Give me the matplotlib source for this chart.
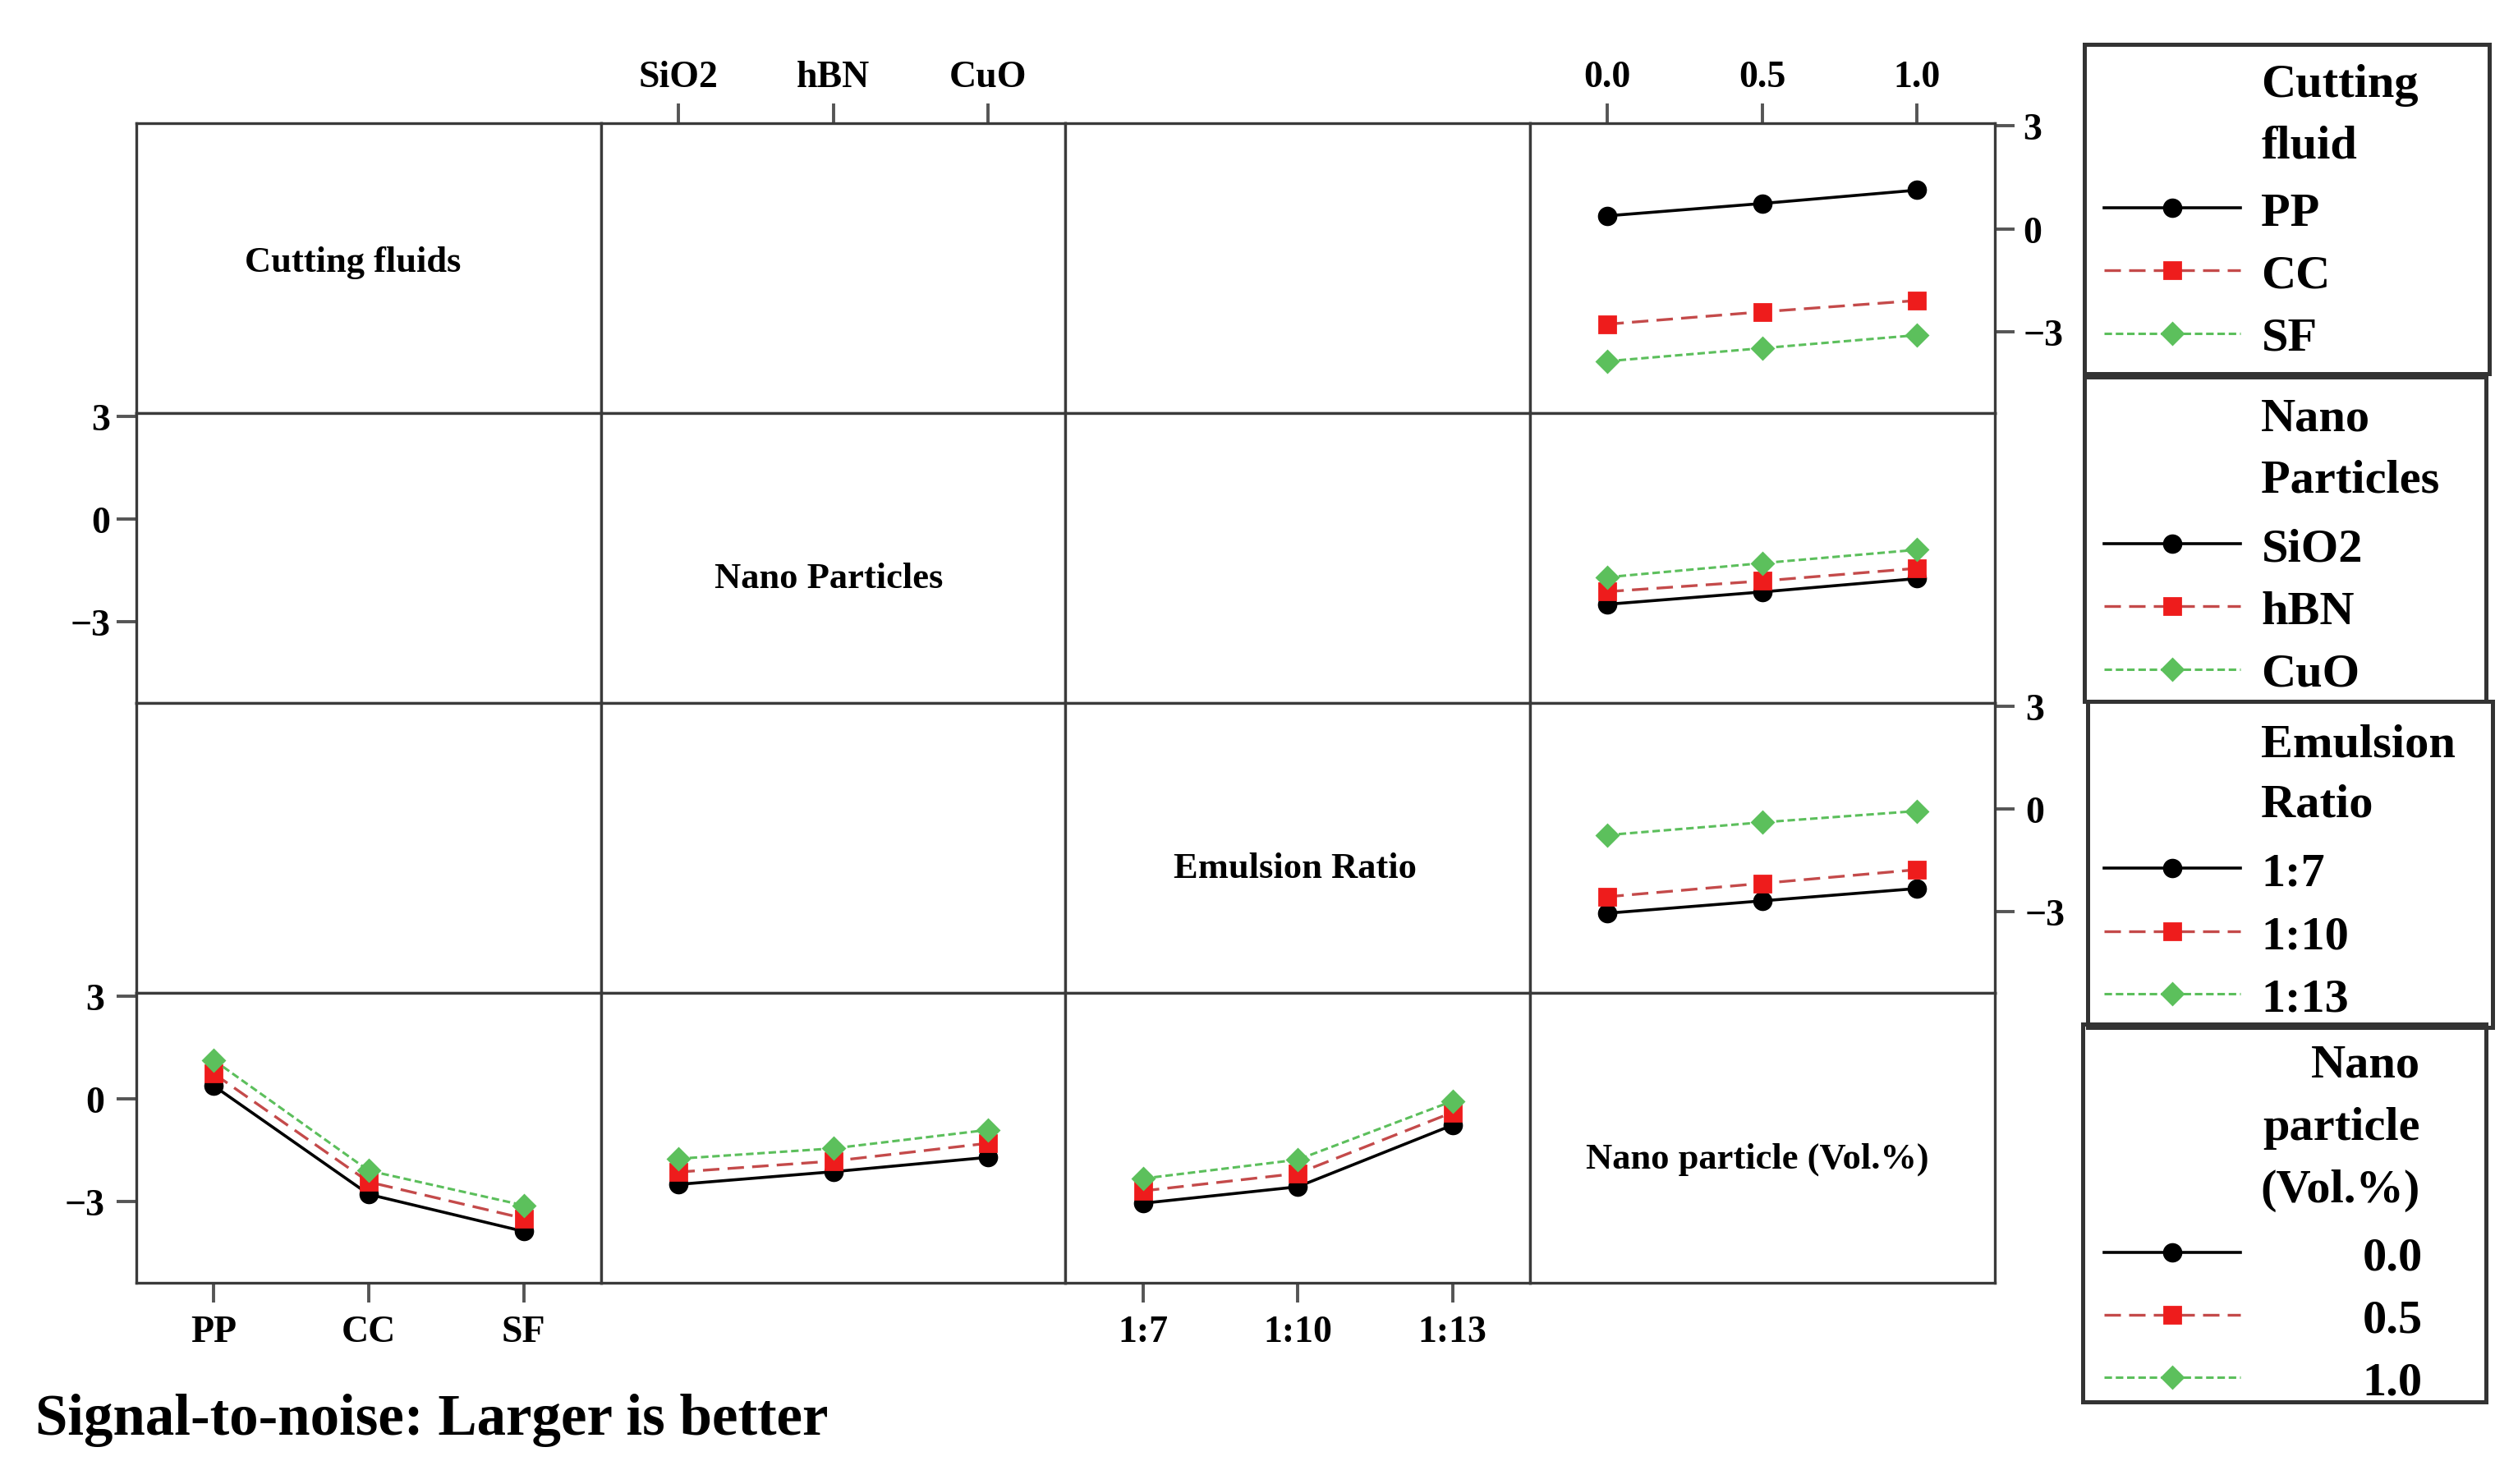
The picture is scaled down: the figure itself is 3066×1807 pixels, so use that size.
import matplotlib
matplotlib.use('Agg')
import matplotlib.pyplot as plt
from matplotlib.patches import Rectangle

plt.rcParams['font.family'] = 'Liberation Serif'
plt.rcParams['font.weight'] = 'bold'

# ---- data (mean S/N ratios) ----
cutting_fluids = ['PP', 'CC', 'SF']
nano_particles = ['SiO2', 'hBN', 'CuO']
emulsion_ratios = ['1:7', '1:10', '1:13']
vol_pct = [0.0, 0.5, 1.0]
vol_labels = ['0.0', '0.5', '1.0']

# rows = factor level, columns = nano particle vol.% (0.0, 0.5, 1.0)
sn_fluid_vol = [[0.38, 0.74, 1.13],
                [-2.78, -2.42, -2.09],
                [-3.86, -3.48, -3.10]]
sn_np_vol = [[-2.49, -2.13, -1.74],
             [-2.12, -1.81, -1.44],
             [-1.70, -1.29, -0.90]]
sn_er_vol = [[-3.04, -2.68, -2.32],
             [-2.56, -2.17, -1.77],
             [-0.76, -0.39, -0.06]]

diag_titles = ['Cutting fluids', 'Nano Particles', 'Emulsion Ratio',
               'Nano particle (Vol.%)']

# ---- styles ----
STYLES = [
    dict(color='black', ls='-', lw=1.3, marker='o', ms=7.5, mfc='black', mec='black'),
    dict(color='#c44a4a', ls=(0, (6, 3)), lw=1.2, marker='s', ms=7,
         mfc='#ee1c1c', mec='#ee1c1c'),
    dict(color='#5cbf5c', ls=(0, (3, 1.5)), lw=1.1, marker='D', ms=6.5,
         mfc='#5cc05c', mec='#5cc05c'),
]
TICK_FS = 16.5
LEG_FS = 21
SPINE_C = '#3a3a3a'

W_REF, H_REF = 1568.0, 924.0   # layout measured on the reference preview


def fx(x):
    return x / W_REF


def fy(y):
    return 1 - y / H_REF


fig = plt.figure(figsize=(15.33, 9.04), dpi=200)
fig.patch.set_facecolor('white')

L, R = fx(85), fx(1242)
T, B = fy(77), fy(799)
w = (R - L) / 4
h = (T - B) / 4

axes = [[None] * 4 for _ in range(4)]
for i in range(4):
    for j in range(4):
        ax = fig.add_axes([L + j * w, T - (i + 1) * h, w, h])
        ax.set_ylim(-5.37, 3.09)
        if j == 3:
            ax.set_xlim(-0.25, 1.25)
        else:
            ax.set_xlim(0.5, 3.5)
        ax.tick_params(left=False, bottom=False, labelleft=False, labelbottom=False,
                       length=8.5, width=1.4, color='#555555', labelsize=TICK_FS)
        for sp in ax.spines.values():
            sp.set_color(SPINE_C)
            sp.set_linewidth(1.2)
        axes[i][j] = ax

# diagonal labels
diag_pos = [(0.465, 0.52), (0.49, 0.43), (0.495, 0.43), (0.49, 0.43)]
for k, txt in enumerate(diag_titles):
    px, py = diag_pos[k]
    axes[k][k].text(px, py, txt, transform=axes[k][k].transAxes, ha='center',
                    va='center', fontsize=16, fontweight='bold')

# right column: factor levels as series, vol.% on x
tables = [(sn_fluid_vol, cutting_fluids), (sn_np_vol, nano_particles),
          (sn_er_vol, emulsion_ratios)]
right_lines = []
for r, (tbl, names) in enumerate(tables):
    ax = axes[r][3]
    lines = []
    for k, row in enumerate(tbl):
        (ln,) = ax.plot(vol_pct, row, label=names[k], **STYLES[k])
        lines.append(ln)
    right_lines.append(lines)

# bottom row: factor on x, vol.% as series
cat_x = [1, 2, 3]
vol_lines = []
for c, (tbl, names) in enumerate(tables):
    ax = axes[3][c]
    for k in range(len(vol_pct)):
        col = [row[k] for row in tbl]
        (ln,) = ax.plot(cat_x, col, label=vol_labels[k], **STYLES[k])
        if c == 0:
            vol_lines.append(ln)

# ticks
yt = [3, 0, -3]
for r in (1, 3):
    ax = axes[r][0]
    ax.set_yticks(yt)
    ax.tick_params(left=True, labelleft=True, pad=3)
for r in (0, 2):
    ax = axes[r][3]
    ax.set_yticks(yt)
    ax.yaxis.set_ticks_position('right')
    ax.tick_params(right=True, labelright=True, left=False, labelleft=False, pad=5)

ax = axes[0][1]
ax.set_xticks(cat_x)
ax.set_xticklabels(nano_particles)
ax.xaxis.set_ticks_position('top')
ax.tick_params(top=True, labeltop=True, pad=4)

ax = axes[0][3]
ax.set_xticks(vol_pct)
ax.set_xticklabels(vol_labels)
ax.xaxis.set_ticks_position('top')
ax.tick_params(top=True, labeltop=True, pad=4)

for c, names in ((0, cutting_fluids), (2, emulsion_ratios)):
    ax = axes[3][c]
    ax.set_xticks(cat_x)
    ax.set_xticklabels(names)
    ax.tick_params(bottom=True, labelbottom=True, pad=5.5)

for i in range(4):
    for j in range(4):
        ax = axes[i][j]
        if not (j == 3 and i in (0, 2)) and not (j == 0 and i in (1, 3)):
            ax.set_yticks([])
        if not ((i == 0 and j in (1, 3)) or (i == 3 and j in (0, 2))):
            ax.set_xticks([])

# ---- legend boxes ----
boxes = [
    # frame (x0, y0, x1, y1) in reference preview px, title lines + y, first entry y
    dict(frame=(1298, 28, 1550, 233), title=['Cutting', 'fluid'], ty=[53, 91],
         ey=130, handles=right_lines[0], labels=cutting_fluids, align='left'),
    dict(frame=(1298, 235, 1548, 437), title=['Nano', 'Particles'], ty=[261, 299],
         ey=339, handles=right_lines[1], labels=nano_particles, align='left'),
    dict(frame=(1300, 437, 1552, 640), title=['Emulsion', 'Ratio'], ty=[464, 501],
         ey=541, handles=right_lines[2], labels=emulsion_ratios, align='left'),
    dict(frame=(1297, 638, 1548, 873), title=['Nano', 'particle', '(Vol.%)'],
         ty=[663, 702, 741], ey=780, handles=vol_lines, labels=vol_labels,
         align='right'),
]

top_off = 10.5   # preview px from legend top to first row centre
for bx in boxes:
    x0, y0, x1, y1 = bx['frame']
    fig.add_artist(Rectangle((fx(x0), fy(y1)), fx(x1) - fx(x0), fy(y0) - fy(y1),
                             transform=fig.transFigure, fill=False,
                             edgecolor='#333333', lw=1.8))
    for line, yy in zip(bx['title'], bx['ty']):
        if bx['align'] == 'left':
            fig.text(fx(1408), fy(yy), line, ha='left', va='center',
                     fontsize=LEG_FS, fontweight='bold')
        else:
            fig.text(fx(1507), fy(yy), line, ha='right', va='center',
                     fontsize=LEG_FS, fontweight='bold')
    pad = 0.44 if bx['align'] == 'left' else 2.55
    fig.legend(bx['handles'], bx['labels'], loc='upper left',
               bbox_to_anchor=(fx(1310), fy(bx['ey'] - top_off)),
               frameon=False, handlelength=2.85,
               handletextpad=pad, labelspacing=0.40, borderpad=0,
               borderaxespad=0, prop=dict(weight='bold', size=LEG_FS))

fig.text(fx(22), fy(884), 'Signal-to-noise: Larger is better', ha='left',
         va='center', fontsize=25.5, fontweight='bold')

fig.savefig('out.png', dpi=200, facecolor='white')
